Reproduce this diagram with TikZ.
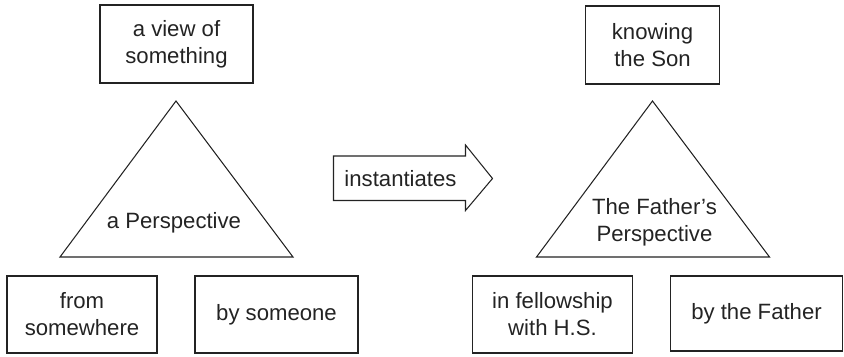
\documentclass[tikz,border=0pt]{standalone}
\usepackage{fontspec}
\setmainfont{Liberation Sans}
\definecolor{inkgray}{RGB}{35,35,35}
\newcommand{\perspectri}[4]{%
  % #1 = apex, #2 = base left, #3 = base right, #4 = name
  \draw[inkgray, line width=0.6pt] #1 -- #2 -- #3 -- cycle;
  \coordinate (#4) at #1;
}

\begin{document}
\begin{tikzpicture}[every node/.style={font=\fontsize{12.6}{15.3}\selectfont, text=inkgray, align=center},
  box/.style={draw=inkgray, line width=0.6pt, inner sep=0pt}]

\useasboundingbox (0,0) rectangle (16.88,7.12);

% --- left: a perspective ---------------------------------------------------
\node[box, minimum width=3.06cm, minimum height=1.56cm] (view) at (3.53,6.24)
  {a view of\\something};
\perspectri{(3.52,5.10)}{(1.20,1.98)}{(5.86,1.98)}{persp}
\node (perspText) at (3.48,2.66) {a Perspective};
\node[box, minimum width=3.00cm, minimum height=1.54cm] (where) at (1.64,0.83)
  {from\\somewhere};
\node[box, minimum width=3.26cm, minimum height=1.54cm] (who) at (5.53,0.83)
  {by someone};

% --- the arrow in between ---------------------------------------------------
\draw[inkgray, line width=0.6pt]
  (6.67,4.00) -- (9.31,4.00) -- (9.31,4.22) -- (9.85,3.55)
  -- (9.31,2.91) -- (9.31,3.11) -- (6.67,3.11) -- cycle;
\node (inst) at (8.01,3.55) {instantiates};

% --- right: the Father's perspective ---------------------------------------
\node[box, minimum width=2.69cm, minimum height=1.56cm] (son) at (13.05,6.22)
  {knowing\\the Son};
\perspectri{(13.05,5.10)}{(10.73,1.98)}{(15.39,1.98)}{father}
\node (fatherText) at (13.09,2.68) {The Father’s\\Perspective};
\node[box, minimum width=3.21cm, minimum height=1.54cm] (spirit) at (11.05,0.83)
  {in fellowship\\with H.S.};
\node[box, minimum width=3.45cm, minimum height=1.50cm] (byfather) at (15.13,0.85)
  {by the Father};

\end{tikzpicture}
\end{document}
